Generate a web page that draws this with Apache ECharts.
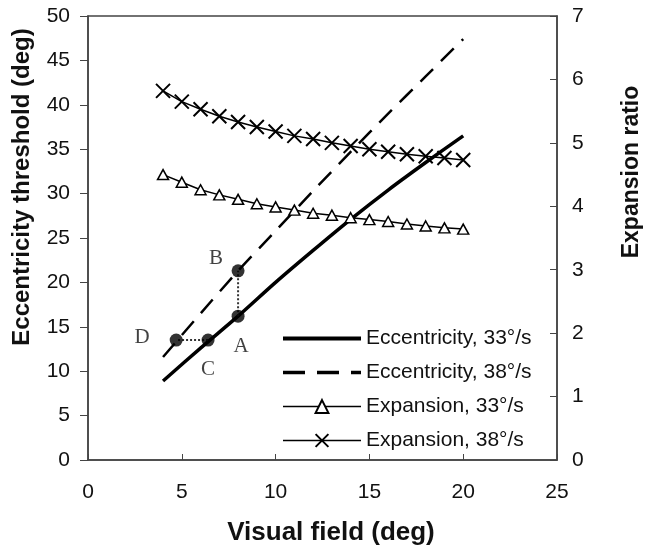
<!DOCTYPE html>
<html>
<head>
<meta charset="utf-8">
<script src="https://cdn.jsdelivr.net/npm/echarts@6/dist/echarts.min.js"></script>
<style>
    html, body { margin: 0; padding: 0; background: #fff; }
    #chart { width: 645px; height: 550px; }
</style>
</head>
<body>
<div id="chart"></div>
<script>
// 数据
const expField = [4, 5, 6, 7, 8, 9, 10, 11, 12, 13, 14, 15, 16, 17, 18, 19, 20];
const expansion33 = [4.50, 4.38, 4.26, 4.18, 4.11, 4.04, 3.99, 3.94, 3.89, 3.86, 3.82, 3.79, 3.76, 3.72, 3.69, 3.66, 3.64];
const expansion38 = [5.82, 5.65, 5.53, 5.42, 5.33, 5.25, 5.18, 5.11, 5.06, 5.00, 4.95, 4.90, 4.86, 4.82, 4.79, 4.76, 4.73];

const eccField = [4, 6, 8, 10, 12, 14, 16, 18, 20];
const ecc33 = [8.9, 12.6, 16.2, 20.0, 23.6, 27.1, 30.4, 33.5, 36.5];
const ecc38 = [11.6, 16.5, 21.3, 25.8, 30.3, 34.7, 39.0, 43.2, 47.4];

const markNames = ['A', 'B', 'C', 'D'];
const markX = [8, 8, 6.4, 4.7];
const markY = [16.2, 21.3, 13.5, 13.5];

const seriesNames = ['Eccentricity, 33°/s', 'Eccentricity, 38°/s', 'Expansion, 33°/s', 'Expansion, 38°/s'];

// 点标签的偏移
const labelOffsets = [[3, 30], [-22, -12], [0, 29], [-34, -3]];
// 图例线型
const legendLines = [
    { width: 4, type: 'solid' },
    { width: 3.5, type: [22, 12] },
    { width: 1.5, type: 'solid' },
    { width: 1.5, type: 'solid' }
];

function pairs(xs, ys) {
    return xs.map((x, i) => [x, ys[i]]);
}

const chart = echarts.init(document.getElementById('chart'));

const axisColor = '#444';
const tickFont = { fontFamily: 'Liberation Sans, Arial', fontSize: 21, color: '#111' };
const titleFont = { fontFamily: 'Liberation Sans, Arial', fontWeight: 'bold', fill: '#111' };

const option = {
    animation: false,
    backgroundColor: '#fff',
    grid: {
        left: 88, right: 88, top: 16, bottom: 90,
        show: true, borderColor: axisColor, borderWidth: 1.5
    },
    legend: {
        data: seriesNames.map((n, i) => ({
            name: n,
            lineStyle: Object.assign({ color: '#000' }, legendLines[i])
        })),
        orient: 'vertical',
        left: 276,
        top: 323,
        itemWidth: 78,
        itemHeight: 16,
        itemGap: 13,
        textStyle: { fontFamily: 'Liberation Sans, Arial', fontSize: 21, color: '#111' }
    },
    xAxis: {
        type: 'value', min: 0, max: 25, interval: 5,
        splitLine: { show: false },
        axisLine: { lineStyle: { color: axisColor, width: 1.5 } },
        axisTick: { inside: true, length: 6, lineStyle: { color: axisColor } },
        axisLabel: Object.assign({ margin: 22 }, tickFont)
    },
    yAxis: [
        {
            type: 'value', min: 0, max: 50, interval: 5,
            splitLine: { show: false },
            axisLine: { show: true, lineStyle: { color: axisColor, width: 1.5 } },
            axisTick: { show: true, length: 8, lineStyle: { color: axisColor } },
            axisLabel: Object.assign({ margin: 18 }, tickFont)
        },
        {
            type: 'value', min: 0, max: 7, interval: 1, position: 'right',
            splitLine: { show: false },
            axisLine: { show: true, lineStyle: { color: axisColor, width: 1.5 } },
            axisTick: { show: true, inside: true, length: 7, lineStyle: { color: axisColor } },
            axisLabel: Object.assign({ margin: 15 }, tickFont)
        }
    ],
    graphic: [
        { type: 'text', x: 22, y: 187, rotation: Math.PI / 2,
          style: Object.assign({ text: 'Eccentricity threshold (deg)', fontSize: 24, align: 'center', verticalAlign: 'middle' }, titleFont) },
        { type: 'text', x: 632, y: 172, rotation: Math.PI / 2,
          style: Object.assign({ text: 'Expansion ratio', fontSize: 23, align: 'center', verticalAlign: 'middle' }, titleFont) },
        { type: 'text', x: 331, y: 533,
          style: Object.assign({ text: 'Visual field (deg)', fontSize: 26, align: 'center', verticalAlign: 'middle' }, titleFont) }
    ],
    series: [
        {
            name: seriesNames[0], type: 'line', showSymbol: false, symbol: 'none',
            smooth: 0.3,
            data: pairs(eccField, ecc33),
            lineStyle: { color: '#000', width: 3.5 },
            itemStyle: { color: '#000', opacity: 0 }
        },
        {
            name: seriesNames[1], type: 'line', showSymbol: false, symbol: 'none',
            smooth: 0.3,
            data: pairs(eccField, ecc38),
            lineStyle: { color: '#000', width: 2.5, type: [18, 11] },
            itemStyle: { color: '#000', opacity: 0 }
        },
        {
            name: seriesNames[2], type: 'line', yAxisIndex: 1,
            symbol: 'triangle', symbolSize: [11, 10],
            data: pairs(expField, expansion33),
            lineStyle: { color: '#000', width: 1.5 },
            itemStyle: { color: '#fff', borderColor: '#000', borderWidth: 1.5 }
        },
        {
            name: seriesNames[3], type: 'line', yAxisIndex: 1,
            symbol: 'path://M0,0L10,10M10,0L0,10', symbolSize: 14,
            data: pairs(expField, expansion38),
            lineStyle: { color: '#000', width: 1.5 },
            itemStyle: { color: 'rgba(0,0,0,0)', borderColor: '#000', borderWidth: 2 }
        },
        // A-B 与 C-D 之间的虚线
        {
            name: 'AB', type: 'line', symbol: 'none', z: 3,
            data: [[markX[0], markY[0]], [markX[1], markY[1]]],
            lineStyle: { color: '#333', width: 2, type: [2, 2] }
        },
        {
            name: 'CD', type: 'line', symbol: 'none', z: 3,
            data: [[markX[2], markY[2]], [markX[3], markY[3]]],
            lineStyle: { color: '#333', width: 2, type: [2, 2] }
        },
        {
            name: 'points', type: 'scatter', z: 5,
            symbolSize: 13,
            itemStyle: { color: '#000' },
            data: markNames.map((n, i) => ({
                value: [markX[i], markY[i]],
                name: n,
                label: { offset: labelOffsets[i] }
            })),
            label: {
                show: true, position: 'inside',
                formatter: p => p.name,
                fontFamily: 'Liberation Serif, Times New Roman', fontSize: 21, color: '#111'
            }
        }
    ]
};

chart.setOption(option);
</script>
</body>
</html>
